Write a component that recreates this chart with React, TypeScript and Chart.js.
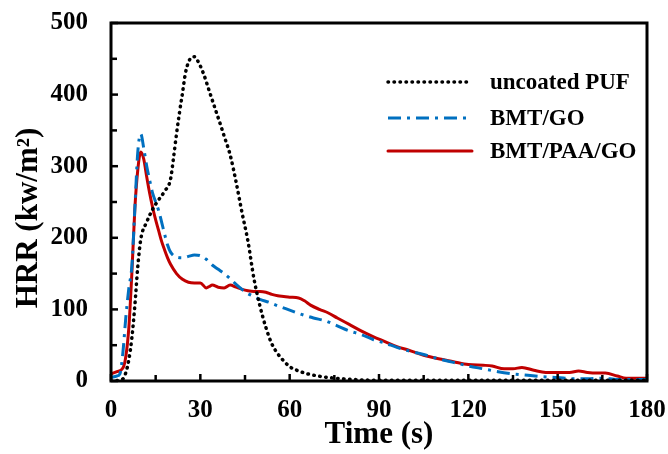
import React, { useEffect, useRef } from "react";
import { Chart, registerables } from "chart.js";

Chart.register(...registerables);

// ---- Data ----
const pufTime = [0, 4, 5, 6, 7, 8, 9, 10, 12, 14, 16, 18, 20, 21, 22, 23, 24, 25, 26, 27, 28, 29, 31, 33, 35, 37, 38, 40, 42, 44, 46, 48, 50, 52, 54, 56, 58, 60, 63, 66, 71, 78, 90, 120, 150, 180];
const pufHRR = [0, 3, 12, 30, 60, 105, 160, 198, 222, 240, 253, 265, 282, 312, 345, 375, 402, 430, 445, 452, 453, 448, 430, 405, 380, 355, 342, 316, 278, 235, 195, 143, 105, 75, 52, 38, 28, 20, 14, 10, 6, 3, 1, 1, 1, 1];

const goTime = [0, 2, 3, 4, 5, 6, 7, 8, 9, 10, 11, 12, 13, 14, 15, 16, 17, 18, 19, 20, 22, 24, 26, 28, 30, 32, 34, 36, 38, 40, 42, 44, 46, 48, 50, 53, 56, 60, 64, 68, 72, 76, 80, 84, 88, 92, 96, 100, 105, 110, 115, 120, 125, 130, 135, 140, 145, 150, 155, 160, 165, 170, 175, 180];
const goHRR = [5, 7, 10, 40, 90, 130, 160, 240, 320, 345, 325, 300, 280, 262, 250, 238, 222, 205, 190, 180, 173, 172, 174, 176, 175, 170, 162, 156, 150, 143, 135, 128, 122, 118, 114, 110, 105, 99, 93, 88, 84, 77, 70, 65, 58, 53, 47, 42, 37, 31, 26, 21, 17, 13, 10, 8, 6, 5, 3, 3, 4, 2, 2, 2];

const paaTime = [0, 2, 4, 5, 6, 7, 8, 9, 10, 11, 12, 13, 14, 15, 16, 17, 18, 19, 20, 22, 24, 26, 28, 30, 32, 33, 34, 36, 38, 40, 42, 44, 46, 48, 50, 52, 54, 56, 58, 60, 63, 65, 67, 70, 73, 76, 80, 84, 88, 92, 96, 100, 105, 110, 115, 120, 125, 128, 132, 135, 138, 142, 146, 150, 154, 157, 160, 163, 166, 170, 173, 177, 180];
const paaHRR = [10, 13, 18, 35, 75, 150, 240, 295, 320, 310, 285, 262, 242, 225, 210, 195, 183, 172, 163, 150, 142, 138, 137, 137, 130, 132, 134, 131, 130, 134, 131, 128, 126, 125, 125, 124, 121, 119, 118, 117, 116, 112, 106, 100, 95, 88, 79, 70, 62, 55, 48, 43, 36, 31, 27, 23, 22, 21, 17, 17, 19, 15, 12, 12, 12, 14, 12, 11, 11, 7, 4, 4, 4];

const seriesLabels = ["uncoated PUF", "BMT/GO", "BMT/PAA/GO"];
const xTickValues = [0, 30, 60, 90, 120, 150, 180];
const yTickValues = [0, 100, 200, 300, 400, 500];
const xTitle = "Time (s)";
const yTitle = "HRR (kw/m\u00B2)";

const FONT = "'Liberation Serif', 'Times New Roman', serif";

const toPoints = (t: number[], v: number[]) => t.map((x, i) => ({ x, y: v[i] }));

const framePlugin = {
  id: "frameTicks",
  afterDatasetsDraw(chart: any) {
    const { ctx, chartArea, scales } = chart;
    const { left, right, top, bottom } = chartArea;
    const x = scales.x;
    const y = scales.y;
    ctx.save();
    ctx.strokeStyle = "#000";
    ctx.lineWidth = 3;
    ctx.strokeRect(left, top, right - left, bottom - top);
    ctx.lineWidth = 2.5;
    // x ticks (inside): major every 30, minor every 15
    for (let v = 0; v <= 180; v += 15) {
      const px = x.getPixelForValue(v);
      const len = v % 30 === 0 ? 7 : 6;
      ctx.beginPath();
      ctx.moveTo(px, bottom);
      ctx.lineTo(px, bottom - len);
      ctx.stroke();
    }
    for (let v = 0; v <= 500; v += 50) {
      const py = y.getPixelForValue(v);
      const len = v % 100 === 0 ? 7 : 6;
      ctx.beginPath();
      ctx.moveTo(left, py);
      ctx.lineTo(left + len, py);
      ctx.stroke();
    }
    // y title
    ctx.fillStyle = "#000";
    ctx.font = `bold 31px ${FONT}`;
    ctx.textAlign = "center";
    ctx.textBaseline = "middle";
    ctx.translate(29, 218);
    ctx.rotate(-Math.PI / 2);
    ctx.fillText(yTitle, 0, 0);
    ctx.restore();

    // legend
    ctx.save();
    const rows = [82, 118, 151];
    chart.data.datasets.forEach((ds: any, i: number) => {
      const yy = rows[i];
      ctx.strokeStyle = ds.borderColor;
      ctx.lineWidth = ds.borderWidth;
      ctx.lineCap = ds.borderCapStyle || "butt";
      ctx.setLineDash(ds.borderDash || []);
      ctx.beginPath();
      ctx.moveTo(388, yy);
      ctx.lineTo(472, yy);
      ctx.stroke();
      ctx.setLineDash([]);
      ctx.fillStyle = "#000";
      ctx.font = `bold 23px ${FONT}`;
      ctx.textAlign = "left";
      ctx.textBaseline = "middle";
      ctx.fillText(ds.label, 490, yy + 1);
    });
    ctx.restore();
  },
};

export default function App() {
  const ref = useRef<HTMLCanvasElement | null>(null);

  useEffect(() => {
    if (!ref.current) return;
    const chart = new Chart(ref.current, {
      type: "line",
      data: {
        datasets: [
          {
            label: seriesLabels[0],
            data: toPoints(pufTime, pufHRR),
            borderColor: "#000000",
            borderWidth: 3.5,
            borderDash: [0.5, 5.5],
            borderCapStyle: "round",
            pointRadius: 0,
            cubicInterpolationMode: "monotone",
            fill: false,
          },
          {
            label: seriesLabels[1],
            data: toPoints(goTime, goHRR),
            borderColor: "#0070C0",
            borderWidth: 3,
            borderDash: [13, 6, 3, 6],
            borderCapStyle: "butt",
            pointRadius: 0,
            cubicInterpolationMode: "monotone",
            fill: false,
          },
          {
            label: seriesLabels[2],
            data: toPoints(paaTime, paaHRR),
            borderColor: "#C00000",
            borderWidth: 3,
            borderCapStyle: "round",
            pointRadius: 0,
            cubicInterpolationMode: "monotone",
            fill: false,
          },
        ] as any,
      },
      options: {
        animation: false,
        responsive: false,
        maintainAspectRatio: false,
        layout: { padding: { top: 23, right: 21, left: 0, bottom: 0 } },
        plugins: { legend: { display: false }, tooltip: { enabled: false } },
        scales: {
          x: {
            type: "linear",
            min: 0,
            max: 180,
            afterBuildTicks: (s: any) => {
              s.ticks = xTickValues.map((v) => ({ value: v }));
            },
            afterFit: (s: any) => {
              s.height = 73;
              s.paddingLeft = 0;
              s.paddingRight = 0;
            },
            grid: { display: false, drawTicks: false },
            border: { display: false },
            ticks: {
              color: "#000",
              padding: 15,
              maxRotation: 0,
              font: { family: FONT, size: 25, weight: "bold" },
            },
            title: {
              display: true,
              text: xTitle,
              color: "#000",
              padding: { top: 0, bottom: 0 },
              font: { family: FONT, size: 31, weight: "bold" },
            },
          },
          y: {
            type: "linear",
            min: 0,
            max: 500,
            afterBuildTicks: (s: any) => {
              s.ticks = yTickValues.map((v) => ({ value: v }));
            },
            afterFit: (s: any) => {
              s.width = 111;
              s.paddingTop = 0;
              s.paddingBottom = 0;
            },
            grid: { display: false, drawTicks: false },
            border: { display: false },
            ticks: {
              color: "#000",
              padding: 23,
              font: { family: FONT, size: 25, weight: "bold" },
            },
          },
        },
      } as any,
      plugins: [framePlugin],
    });
    return () => chart.destroy();
  }, []);

  return (
    <div style={{ position: "absolute", left: 0, top: 0, width: 668, height: 454, background: "#fff" }}>
      <canvas ref={ref} width={668} height={454} style={{ width: 668, height: 454, display: "block" }} />
    </div>
  );
}
